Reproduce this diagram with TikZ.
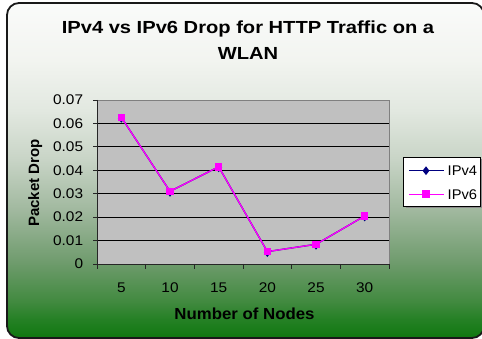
\documentclass[tikz,border=0pt]{standalone}
\usepackage{fontspec}
\setmainfont{Liberation Sans}
\newfontfamily\titlefont[FakeStretch=1.15]{Liberation Sans}
\newfontfamily\numfont[FakeStretch=1.1]{Liberation Sans}
\newfontfamily\axfont[FakeStretch=1.05]{Liberation Sans}
\usetikzlibrary{shapes.geometric}
\definecolor{g0}{RGB}{16,120,16}
\definecolor{g1}{RGB}{36,128,36}
\definecolor{g2}{RGB}{66,138,64}
\definecolor{g3}{RGB}{112,156,110}
\definecolor{g4}{RGB}{160,184,158}
\definecolor{g5}{RGB}{200,212,198}
\definecolor{g6}{RGB}{226,232,224}
\definecolor{g7}{RGB}{242,244,240}
\definecolor{g8}{RGB}{250,251,250}
\definecolor{plotbg}{RGB}{192,192,192}
\definecolor{plotedge}{RGB}{128,128,128}
\definecolor{framecol}{RGB}{25,25,25}
\definecolor{vsix}{RGB}{255,0,255}
\definecolor{vfour}{RGB}{0,0,128}
\pgfdeclareverticalshading{chartbg}{100bp}{color(0bp)=(g0); color(25bp)=(g0); color(27.7bp)=(g1); color(30.5bp)=(g2); color(36.5bp)=(g3); color(44bp)=(g4); color(51.6bp)=(g5); color(59bp)=(g6); color(66.5bp)=(g7); color(75bp)=(g8); color(100bp)=(g8)}
\tikzset{
  gridline/.style={black, line width=0.9pt},
  axisline/.style={black!85, line width=0.9pt},
  edgeline/.style={plotedge, line width=0.9pt},
  sixline/.style={vsix, line width=1.3pt},
  fourline/.style={vfour, line width=1.3pt},
  sqmark/.style={rectangle, fill=vsix, minimum size=7.6pt, inner sep=0pt},
  diamark/.style={diamond, fill=vfour, minimum width=7pt, minimum height=9pt, inner sep=0pt},
  numlabel/.style={font=\numfont\fontsize{14}{16}\selectfont, inner sep=0pt},
  legtext/.style={font=\axfont\fontsize{14}{16}\selectfont, inner sep=0pt, anchor=west},
}
\begin{document}
\begin{tikzpicture}[x=1pt,y=-1pt]
\useasboundingbox (0,0) rectangle (482,339);
\clip (0,0) rectangle (482,339);
% chart background
\shadedraw[shading=chartbg, draw=framecol, line width=1.8pt, rounded corners=12pt] (7,3) rectangle (484,338);
% title
\node[font=\titlefont\bfseries\fontsize{17.5}{21}\selectfont, anchor=base, inner sep=0pt] (title1) at (248,33.5) {IPv4 vs IPv6 Drop for HTTP Traffic on a};
\node[font=\titlefont\bfseries\fontsize{17.5}{21}\selectfont, anchor=base, inner sep=0pt] (title2) at (248,59.3) {WLAN};
% axis titles
\node[font=\axfont\bfseries\fontsize{16}{19}\selectfont, anchor=base, inner sep=0pt] (xtitle) at (244.5,319) {Number of Nodes};
\node[font=\bfseries\fontsize{15}{18}\selectfont, anchor=base, rotate=90, inner sep=0pt] (ytitle) at (39,183) {Packet Drop};
% plot
\begin{scope}[shift={(97,264)}, x=48.667pt, y=2342.857pt]
  \fill[plotbg] (0,0) rectangle (6,0.07);
  \foreach \v in {0.01,0.02,0.03,0.04,0.05,0.06}
    \draw[gridline] (0,\v) -- (6,\v);
  \draw[edgeline] (0,0.07) -- (6,0.07) -- (6,0);
  \draw[axisline] (0,0.07) -- (0,0) -- (6,0);
  \foreach \v/\l [count=\k] in {0/0,0.01/0.01,0.02/0.02,0.03/0.03,0.04/0.04,0.05/0.05,0.06/0.06,0.07/0.07} {
    \draw[axisline] (0,\v) -- ++(-4.5pt,0);
    \node[numlabel, anchor=east] (yl\k) at ([xshift=-13.7pt]0,\v) {\l};
  }
  \foreach \i in {0,...,6}
    \draw[axisline] (\i,0) -- ++(0,-4.5pt);
  \foreach \n [count=\k] in {5,10,15,20,25,30}
    \node[numlabel, anchor=base] (xl\k) at ([yshift=-28.3pt]\k-0.5,0) {\n};
  \coordinate (d1) at (0.5,0.0626);
  \coordinate (d2) at (1.5,0.0310);
  \coordinate (d3) at (2.5,0.0415);
  \coordinate (d4) at (3.5,0.0053);
  \coordinate (d5) at (4.5,0.0084);
  \coordinate (d6) at (5.5,0.0205);
  \draw[fourline] (d1) -- (d2) -- (d3) -- (d4) -- (d5) -- (d6);
  \foreach \k in {1,...,6}
    \node[diamark] (a\k) at ([yshift=-1pt]d\k) {};
  \draw[sixline] (d1) -- (d2) -- (d3) -- (d4) -- (d5) -- (d6);
  \foreach \k in {1,...,6}
    \node[sqmark] (b\k) at (d\k) {};
\end{scope}
% legend
\fill[black!45] (405.5,159.5) rectangle (482.5,208.5);
\draw[fill=white, line width=0.9pt] (403,157) rectangle (480,206);
\coordinate (l4a) at (409,170.7);
\coordinate (l4b) at (444,170.7);
\coordinate (l6a) at (409,194.3);
\coordinate (l6b) at (444,194.3);
\draw[fourline, line width=1pt] (l4a) -- (l4b);
\node[diamark] (lm4) at (426,170.7) {};
\draw[sixline, line width=1pt] (l6a) -- (l6b);
\node[sqmark] (lm6) at (426,194.3) {};
\node[legtext] (lt4) at (447.5,170.7) {IPv4};
\node[legtext] (lt6) at (447.5,194.3) {IPv6};
\end{tikzpicture}
\end{document}
